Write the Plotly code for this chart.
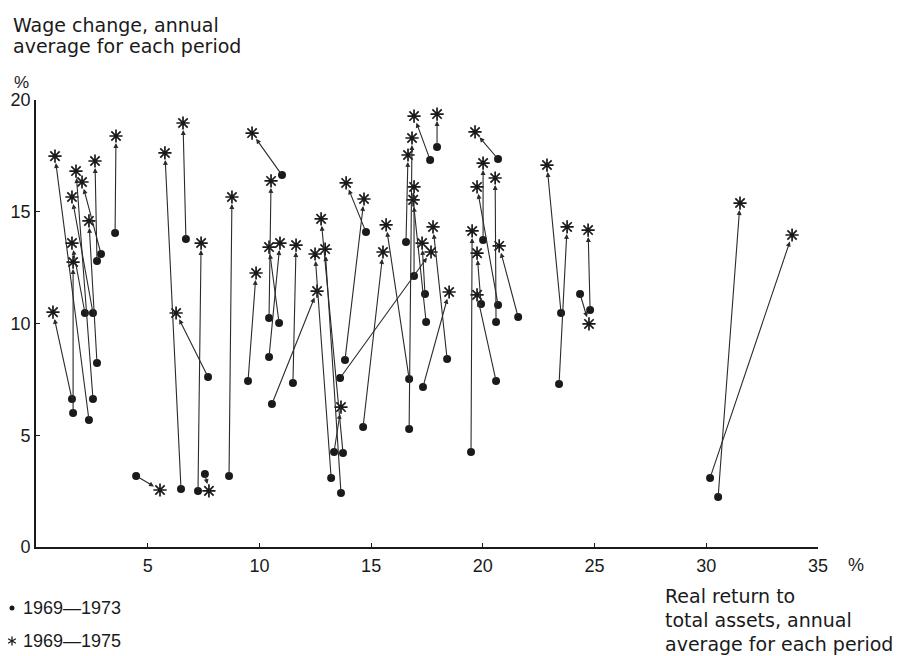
import plotly.graph_objects as go

# 1969-1973 (dots) -> 1969-1975 (stars), real return (x, %) vs wage change (y, %)
dot_x = [1.61, 3.54, 2.73, 2.91, 2.37, 2.73, 2.55, 2.19, 2.55, 1.66, 4.48,
         6.71, 6.49, 7.70, 7.25, 7.56, 8.64, 9.49, 11.01, 10.43, 10.88, 10.43, 10.56, 11.50, 13.74, 13.65, 13.21, 13.34,
         14.77, 13.83, 14.64, 16.70, 13.61,
         17.95, 17.64, 16.56, 18.40, 17.32, 16.70, 16.92, 17.41, 17.46,
         20.68, 19.47, 21.58, 20.59, 20.68, 20.01, 19.92, 20.59,
         23.50, 23.41, 24.80, 24.35,
         30.53, 30.17]
dot_y = [6.62, 14.05, 12.80, 13.11, 5.68, 8.23, 6.62, 10.47, 10.47, 6.00, 3.18,
         13.78, 2.60, 7.61, 2.51, 3.27, 3.18, 7.43, 16.64, 10.25, 10.02, 8.50, 6.40, 7.34, 4.21, 2.42, 3.09, 4.25,
         14.09, 8.37, 5.37, 7.52, 7.56,
         17.90, 17.32, 13.65, 8.41, 7.16, 5.28, 12.13, 11.32, 10.07,
         17.36, 4.25, 10.29, 7.43, 10.83, 13.74, 10.87, 10.07,
         10.47, 7.29, 10.60, 11.32,
         2.24, 3.09]
star_x = [0.76, 3.58, 2.64, 2.06, 0.85, 2.37, 1.79, 1.61, 1.61, 1.66, 5.55,
          6.58, 5.77, 6.27, 7.39, 7.74, 8.77, 9.85, 9.67, 10.52, 10.43, 10.92, 12.58, 11.64, 12.76, 12.94, 12.49, 13.65,
          13.88, 14.68, 15.53, 15.67, 17.68,
          17.95, 16.92, 16.65, 17.77, 18.49, 16.83, 16.92, 17.28, 16.88,
          19.65, 19.52, 20.73, 19.74, 19.74, 20.01, 19.74, 20.55,
          22.87, 23.77, 24.71, 24.75,
          31.51, 33.84]
star_y = [10.51, 18.39, 17.27, 16.33, 17.49, 14.59, 16.82, 13.60, 15.66, 12.75, 2.55,
          18.97, 17.63, 10.47, 13.60, 2.51, 15.66, 12.26, 18.52, 16.38, 13.42, 13.60, 11.45, 13.51, 14.68, 13.33, 13.11, 6.26,
          16.29, 15.57, 13.20, 14.41, 13.20,
          19.37, 19.28, 17.54, 14.32, 11.41, 18.30, 16.11, 13.60, 15.53,
          18.57, 14.14, 13.47, 11.28, 16.11, 17.18, 13.15, 16.51,
          17.09, 14.32, 14.18, 9.98,
          15.39, 13.96]

x_ticks = [5, 10, 15, 20, 25, 30, 35]
y_ticks = [0, 5, 10, 15, 20]
series_names = ["1969\u20141973", "1969\u20141975"]

INK = "#1a1a1a"
WORD_FONT = "DejaVu Sans"
NUM_FONT = "Liberation Sans"

W, H = 897, 656
L, R, T, B = 36, 79, 100, 109
PW, PH = W - L - R, H - T - B


def px(xp):
    return (xp - L) / PW


def py(yp):
    return (H - B - yp) / PH


fig = go.Figure()
fig.add_trace(go.Scatter(x=dot_x, y=dot_y, mode="markers", name=series_names[0],
                         marker=dict(symbol="circle", size=8, color=INK),
                         cliponaxis=False, showlegend=False))
fig.add_trace(go.Scatter(x=star_x, y=star_y, mode="markers", name=series_names[1],
                         marker=dict(symbol="asterisk-open", size=11, color=INK,
                                     line=dict(width=1.7, color=INK)),
                         cliponaxis=False, showlegend=False))

annotations = []
for x0, y0, x1, y1 in zip(dot_x, dot_y, star_x, star_y):
    annotations.append(dict(x=x1, y=y1, ax=x0, ay=y0, xref="x", yref="y", axref="x", ayref="y",
                            text="", showarrow=True, arrowhead=2, arrowsize=0.9, arrowwidth=1.1,
                            arrowcolor="#2a2a2a", standoff=7))

def txt(t, xp, yp, anchor="left", font=WORD_FONT, size=19):
    annotations.append(dict(text=t, x=px(xp), y=py(yp), xref="paper", yref="paper",
                            xanchor=anchor, yanchor="middle", showarrow=False,
                            font=dict(family=font, size=size, color=INK)))

txt("Wage change, annual", 11, 25)
txt("average for each period", 11, 46)
txt("%", 21, 82, anchor="center", font=NUM_FONT, size=17)
txt("%", 856, 565, anchor="center", font=NUM_FONT, size=18)
txt("Real return to", 663, 596)
txt("total assets, annual", 663, 620)
txt("average for each period", 663, 644)
txt(series_names[0], 21, 608, font=NUM_FONT, size=18)
txt(series_names[1], 21, 641, font=NUM_FONT, size=18)

shapes = []
# legend dot
shapes.append(dict(type="circle", xref="paper", yref="paper",
                   x0=px(9.5), x1=px(14.5), y0=py(605.5), y1=py(610.5),
                   fillcolor=INK, line=dict(color=INK, width=0)))
# legend star (6 arms)
cx, cy, r = 12, 641, 4.5
for dx, dy in [(0, r), (r * 0.87, r * 0.5), (r * 0.87, -r * 0.5)]:
    shapes.append(dict(type="line", xref="paper", yref="paper",
                       x0=px(cx - dx), x1=px(cx + dx), y0=py(cy - dy), y1=py(cy + dy),
                       line=dict(color=INK, width=1.3)))

fig.update_layout(
    width=W, height=H,
    margin=dict(l=L, r=R, t=T, b=B, pad=0),
    paper_bgcolor="white", plot_bgcolor="white",
    showlegend=False,
    annotations=annotations, shapes=shapes,
    xaxis=dict(range=[0, 35], tickvals=x_ticks, ticktext=[str(v) for v in x_ticks],
               showgrid=False, zeroline=False, showline=True, linecolor=INK, linewidth=1.6,
               ticks="inside", ticklen=4, tickcolor=INK, tickwidth=1,
               ticklabelstandoff=2,
               tickfont=dict(family=NUM_FONT, size=18, color=INK)),
    yaxis=dict(range=[0, 20], tickvals=y_ticks, ticktext=[str(v) for v in y_ticks],
               showgrid=False, zeroline=False, showline=True, linecolor=INK, linewidth=1.6,
               ticks="inside", ticklen=4, tickcolor=INK, tickwidth=1,
               tickfont=dict(family=NUM_FONT, size=18, color=INK)),
)

fig.write_html("out.html")
